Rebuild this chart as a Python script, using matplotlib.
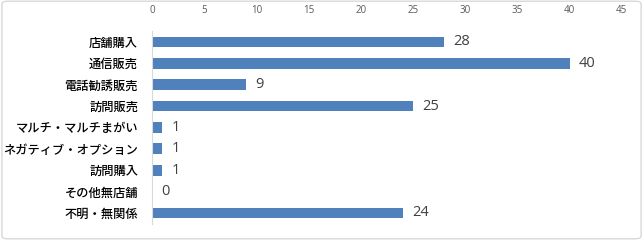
import matplotlib.pyplot as plt
from matplotlib.patches import FancyBboxPatch

plt.rcParams['font.family'] = ['Noto Sans CJK JP', 'DejaVu Sans']

categories = ['店舗購入', '通信販売', '電話勧誘販売', '訪問販売', 'マルチ・マルチまがい',
              'ネガティブ・オプション', '訪問購入', 'その他無店舗', '不明・無関係']
values = [28, 40, 9, 25, 1, 1, 1, 0, 24]
xticks = [0, 5, 10, 15, 20, 25, 30, 35, 40, 45]

fig = plt.figure(figsize=(6.43, 2.4), dpi=100)
# light gray frame around the whole chart
fig.patches.append(FancyBboxPatch((0.003, 0.005), 0.994, 0.99, boxstyle='round,pad=0,rounding_size=0.01',
                                  transform=fig.transFigure, fill=False, edgecolor='#d9d9d9', linewidth=1))
ax = fig.add_axes([0.2364, 0.068, 0.7306, 0.802])

y = list(range(len(categories)))
ax.barh(y, values, height=0.5, color='#4f81bd')
for yi, v in zip(y, values):
    ax.text(v + 0.9, yi, str(v), va='center', ha='left', fontsize=10.5, color='#404040',
            family=['Open Sans', 'DejaVu Sans'])

ax.set_xlim(0, 45)
ax.set_ylim(len(categories) - 0.5, -0.5)
ax.set_yticks(y)
ax.set_yticklabels(categories, fontsize=8.8, color='black', fontweight='medium')
ax.set_xticks(xticks)
ax.set_xticklabels([str(t) for t in xticks], family=['Open Sans', 'DejaVu Sans'])
ax.xaxis.tick_top()
ax.tick_params(axis='x', length=0, labelsize=7, labelcolor='#595959', pad=11)
ax.tick_params(axis='y', length=0, pad=10)
for s in ['top', 'right', 'bottom']:
    ax.spines[s].set_visible(False)
ax.spines['left'].set_color('#d9d9d9')

fig.savefig('out.png', dpi=100)
